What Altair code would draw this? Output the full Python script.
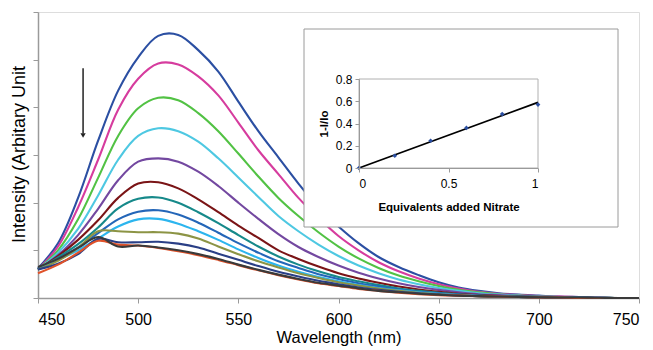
import altair as alt
import pandas as pd

# ---------------- data ----------------
wavelengths = list(range(450, 751, 10))

s_blue    = [0.62, 1.15, 2.1, 3.3, 4.35, 5.05, 5.5, 5.52, 5.2, 4.75, 4.12, 3.5, 2.95, 2.4, 1.9, 1.5, 1.15, 0.86, 0.65, 0.48, 0.33, 0.22, 0.15, 0.1, 0.07, 0.05, 0.03, 0.02, 0.01, 0.0, 0.0]
s_magenta = [0.6, 1.08, 1.9, 2.9, 3.95, 4.6, 4.92, 4.9, 4.65, 4.25, 3.68, 3.1, 2.6, 2.1, 1.68, 1.3, 1.0, 0.75, 0.56, 0.41, 0.29, 0.2, 0.13, 0.09, 0.06, 0.04, 0.03, 0.02, 0.01, 0.0, 0.0]
s_green   = [0.6, 1.0, 1.65, 2.52, 3.4, 3.98, 4.2, 4.15, 3.88, 3.5, 3.03, 2.55, 2.1, 1.72, 1.38, 1.08, 0.83, 0.63, 0.47, 0.35, 0.25, 0.17, 0.12, 0.08, 0.05, 0.035, 0.02, 0.01, 0.01, 0.0, 0.0]
s_cyan    = [0.6, 0.95, 1.45, 2.15, 2.9, 3.4, 3.56, 3.5, 3.28, 2.93, 2.53, 2.12, 1.72, 1.4, 1.12, 0.88, 0.68, 0.52, 0.39, 0.29, 0.21, 0.15, 0.1, 0.07, 0.05, 0.03, 0.02, 0.01, 0.01, 0.0, 0.0]
s_purple  = [0.6, 0.9, 1.32, 1.87, 2.47, 2.86, 2.93, 2.86, 2.65, 2.35, 2.0, 1.66, 1.34, 1.07, 0.86, 0.68, 0.53, 0.41, 0.31, 0.23, 0.17, 0.12, 0.08, 0.06, 0.04, 0.03, 0.02, 0.01, 0.01, 0.0, 0.0]
s_darkred = [0.6, 0.88, 1.22, 1.63, 2.1, 2.4, 2.43, 2.3, 2.07, 1.8, 1.52, 1.26, 1.0, 0.82, 0.66, 0.52, 0.41, 0.32, 0.24, 0.18, 0.13, 0.09, 0.06, 0.04, 0.03, 0.02, 0.01, 0.01, 0.0, 0.0, 0.0]
s_teal    = [0.6, 0.85, 1.13, 1.48, 1.88, 2.08, 2.11, 2.0, 1.8, 1.57, 1.32, 1.08, 0.87, 0.7, 0.56, 0.44, 0.35, 0.27, 0.2, 0.15, 0.11, 0.08, 0.05, 0.04, 0.03, 0.02, 0.01, 0.01, 0.0, 0.0, 0.0]
s_blue2   = [0.6, 0.82, 1.06, 1.36, 1.65, 1.81, 1.84, 1.75, 1.58, 1.37, 1.15, 0.95, 0.77, 0.63, 0.5, 0.4, 0.31, 0.24, 0.18, 0.13, 0.1, 0.07, 0.05, 0.03, 0.02, 0.015, 0.01, 0.01, 0.0, 0.0, 0.0]
s_sky     = [0.6, 0.8, 1.0, 1.25, 1.5, 1.65, 1.66, 1.56, 1.4, 1.22, 1.02, 0.84, 0.68, 0.55, 0.44, 0.35, 0.27, 0.21, 0.16, 0.12, 0.09, 0.06, 0.04, 0.03, 0.02, 0.01, 0.01, 0.0, 0.0, 0.0, 0.0]
s_olive   = [0.6, 0.78, 1.05, 1.4, 1.4, 1.38, 1.38, 1.35, 1.25, 1.08, 0.92, 0.77, 0.64, 0.52, 0.42, 0.33, 0.26, 0.2, 0.15, 0.11, 0.08, 0.06, 0.04, 0.03, 0.02, 0.01, 0.01, 0.0, 0.0, 0.0, 0.0]
s_navy    = [0.6, 0.72, 0.92, 1.24, 1.17, 1.17, 1.18, 1.14, 1.06, 0.93, 0.8, 0.67, 0.55, 0.45, 0.36, 0.29, 0.22, 0.17, 0.13, 0.1, 0.07, 0.05, 0.04, 0.03, 0.02, 0.01, 0.01, 0.0, 0.0, 0.0, 0.0]
s_orange  = [0.52, 0.7, 0.95, 1.2, 1.12, 1.1, 1.05, 0.98, 0.9, 0.8, 0.69, 0.58, 0.48, 0.39, 0.31, 0.25, 0.19, 0.15, 0.11, 0.08, 0.06, 0.05, 0.04, 0.03, 0.02, 0.01, 0.01, 0.0, 0.0, 0.0, 0.0]
s_black   = [0.65, 0.82, 1.05, 1.28, 1.08, 1.1, 1.06, 1.0, 0.92, 0.82, 0.7, 0.59, 0.49, 0.4, 0.32, 0.26, 0.2, 0.15, 0.12, 0.09, 0.07, 0.05, 0.04, 0.03, 0.02, 0.015, 0.01, 0.01, 0.005, 0.0, 0.0]

series_names = ["blue", "magenta", "green", "cyan", "purple", "darkred", "teal",
                "blue2", "sky", "olive", "navy", "orange", "black"]
series_values = [s_blue, s_magenta, s_green, s_cyan, s_purple, s_darkred, s_teal,
                 s_blue2, s_sky, s_olive, s_navy, s_orange, s_black]
series_colors = ["#2B4FA2", "#D63C9E", "#52C244", "#4EC8E2", "#7348A0", "#7A1416", "#16898A",
                 "#2466B8", "#2CB5EE", "#8C9445", "#2A3F86", "#E0522A", "#3A3A3A"]

x_ticks = [450, 500, 550, 600, 650, 700, 750]
y_ticks = [0, 1, 2, 3, 4, 5, 6]

# arrow annotation (wavelength, intensity)
arrow_x = [472.5]
arrow_y = [4.82, 3.45]
arrow_head_y = [3.41]

# inset data
eq_nitrate = [0, 0.2, 0.4, 0.6, 0.8, 1.0]
one_minus_i = [0.0, 0.11, 0.245, 0.36, 0.485, 0.57]
fit_x = [0, 1]
fit_y = [0.0, 0.59]
inset_x_ticks = [0, 0.5, 1]
inset_y_ticks = [0, 0.2, 0.4, 0.6, 0.8]

rows = []
for name, vals in zip(series_names, series_values):
    for w, v in zip(wavelengths, vals):
        rows.append({"wavelength": w, "intensity": v, "series": name})
df = pd.DataFrame(rows)

FONT = "Liberation Sans"
GRAY = "#9A9A9A"

# ---------------- main plot ----------------
xs = alt.Scale(domain=[450, 750], nice=False)
ys = alt.Scale(domain=[0, 6], nice=False)

lines = alt.Chart(df).mark_line(strokeWidth=2.1, interpolate="catmull-rom").encode(
    x=alt.X("wavelength:Q", scale=xs,
            axis=alt.Axis(values=x_ticks, title="Wavelength (nm)", grid=False,
                          tickSize=5, tickColor=GRAY, domainColor=GRAY, domainWidth=1.5,
                          labelFontSize=16, labelFont=FONT, labelColor="#000",
                          labelPadding=8, titleFontSize=16.5, titleFont=FONT,
                          titleFontWeight="normal", titleColor="#000", titlePadding=2)),
    y=alt.Y("intensity:Q", scale=ys,
            axis=alt.Axis(values=y_ticks, labels=False, title="Intensity (Arbitary Unit",
                          grid=False, tickSize=5, tickColor=GRAY, domainColor=GRAY,
                          domainWidth=1.5, titleFontSize=18, titleFont=FONT,
                          titleFontWeight="normal", titleColor="#000",
                          titleX=-19, titleY=142, titleAlign="center",
                          titleBaseline="middle", titleAngle=-90)),
    color=alt.Color("series:N", scale=alt.Scale(domain=series_names, range=series_colors),
                    legend=None),
)

arrow_df = pd.DataFrame({"x": arrow_x, "y": [arrow_y[0]], "y2": [arrow_y[1]]})
arrow_shaft = alt.Chart(arrow_df).mark_rule(color="#222", strokeWidth=1.5).encode(
    x=alt.X("x:Q", scale=xs), y=alt.Y("y:Q", scale=ys), y2="y2:Q")
arrow_head = alt.Chart(pd.DataFrame({"x": arrow_x, "y": arrow_head_y})).mark_point(
    shape="triangle-down", filled=True, color="#222", size=28, opacity=1).encode(
    x=alt.X("x:Q", scale=xs), y=alt.Y("y:Q", scale=ys))

main = alt.layer(lines, arrow_shaft, arrow_head)

# ---------------- inset ----------------
one = pd.DataFrame({"a": [0]})
inset_box = alt.Chart(one).mark_rect(fill="white", stroke=GRAY, strokeWidth=1).encode(
    x=alt.value(266), x2=alt.value(580), y=alt.value(17), y2=alt.value(215))
inset_frame = alt.Chart(one).mark_rect(fill=None, stroke="#B0B0B0", strokeWidth=1).encode(
    x=alt.value(321), x2=alt.value(500), y=alt.value(67), y2=alt.value(156))

ixs = alt.Scale(domain=[0, 1], range=[321, 500], nice=False)
iys = alt.Scale(domain=[0, 0.8], range=[156, 67], nice=False)

fit = alt.Chart(pd.DataFrame({"x": fit_x, "y": fit_y})).mark_line(
    color="#000", strokeWidth=1.8).encode(
    x=alt.X("x:Q", scale=ixs,
            axis=alt.Axis(orient="bottom", offset=-130, values=inset_x_ticks, format="~g",
                          title="Equivalents added Nitrate", grid=False, tickSize=4,
                          tickColor=GRAY, domainColor=GRAY, labelFontSize=12,
                          labelFont=FONT, labelColor="#000", labelPadding=6,
                          titleFontSize=11.5, titleFont=FONT, titleFontWeight="bold",
                          titleColor="#000", titlePadding=12, zindex=2)),
    y=alt.Y("y:Q", scale=iys,
            axis=alt.Axis(orient="left", offset=-321, values=inset_y_ticks, format="~g",
                          title="1-I/Io", grid=False, tickSize=4, tickColor=GRAY,
                          domainColor=GRAY, labelFontSize=12, labelFont=FONT,
                          labelColor="#000", labelPadding=3, titleFontSize=11.5,
                          titleFont=FONT, titleFontWeight="bold", titleColor="#000",
                          titlePadding=6, zindex=2)),
)
pts = alt.Chart(pd.DataFrame({"x": eq_nitrate, "y": one_minus_i})).mark_point(
    shape="diamond", filled=True, color="#2B4FA2", size=22, opacity=1).encode(
    x=alt.X("x:Q", scale=ixs), y=alt.Y("y:Q", scale=iys))

inset = alt.layer(inset_box, inset_frame, fit, pts)

chart = alt.layer(main, inset).resolve_scale(x="independent", y="independent").properties(
    width=601, height=286,
    autosize=alt.AutoSizeParams(type="none"),
    padding={"left": 30, "top": 4, "right": 6, "bottom": 52},
).configure_view(stroke="#A8A8A8", strokeWidth=1).configure(background="white")

chart.save("out.html", embed_options={"renderer": "svg", "actions": False})
